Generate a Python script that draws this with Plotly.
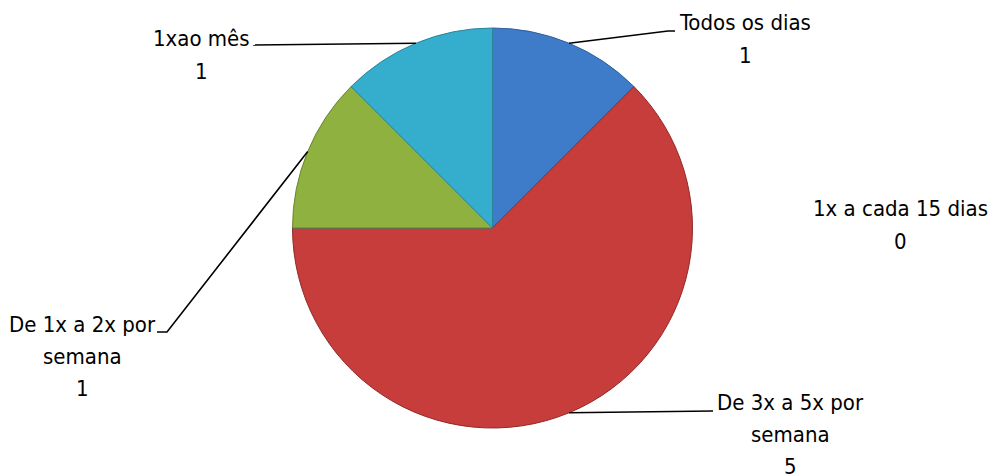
import math
import plotly.graph_objects as go

# Frequency categories and counts
categories = ["Todos os dias", "De 3x a 5x por semana", "1x a cada 15 dias",
              "De 1x a 2x por semana", "1xao mês"]
values = [1, 5, 0, 1, 1]
label_lines = [["Todos os dias"], ["De 3x a 5x por", "semana"], ["1x a cada 15 dias"],
               ["De 1x a 2x por", "semana"], ["1xao mês"]]

colors = ["#3e7cc9", "#c63d3b", "#8064a2", "#8fb13f", "#35aecd"]
edge_colors = ["#2f5f9c", "#8f2a29", "#5e4a7a", "#6a8530", "#27849c"]

W, H = 992, 475
CX, CY, R = 492.5, 228.0, 200.0
FONT = "Liberation Sans Narrow, DejaVu Sans Condensed, Arial Narrow, sans-serif"
LINE_STEP = 32

# label placement: centre x and centre y of the first text line (pixels)
label_pos = [(745, 23), (790, 402), (900, 209), (82, 324), (201, 39)]
# leader line elbows after the slice edge point (pixels)
leader_knee = [[(668, 31), (675, 31)],
               [(713, 411)],
               None,
               [(167, 332), (157, 332)],
               [(253, 45)]]


def px(x):
    return x / W


def py(y):
    return 1 - y / H


fig = go.Figure(go.Pie(
    labels=categories,
    values=values,
    sort=False,
    direction="clockwise",
    rotation=0,
    textinfo="none",
    hoverinfo="label+value",
    marker=dict(colors=colors, line=dict(color=edge_colors, width=1)),
    domain=dict(x=[(CX - R) / W, (CX + R) / W], y=[1 - (CY + R) / H, 1 - (CY - R) / H]),
    showlegend=False,
))

total = sum(values)
cum = 0
shapes = []
annotations = []
for i, v in enumerate(values):
    mid = (cum + v / 2) / total * 2 * math.pi
    cum += v
    lines = label_lines[i] + [str(v)]
    lx, ly = label_pos[i]
    for k, line in enumerate(lines):
        annotations.append(dict(
            x=px(lx), y=py(ly + k * LINE_STEP), xref="paper", yref="paper",
            xanchor="center", yanchor="middle", align="center",
            text=line, showarrow=False,
            font=dict(family=FONT, size=22, color="#000000"),
        ))
    if leader_knee[i] is None or v == 0:
        continue
    ex = CX + R * math.sin(mid)
    ey = CY - R * math.cos(mid)
    pts = [(ex, ey)] + leader_knee[i]
    path = "M " + " L ".join(f"{px(x):.5f},{py(y):.5f}" for x, y in pts)
    shapes.append(dict(type="path", path=path, xref="paper", yref="paper",
                       line=dict(color="#000000", width=1.6)))

fig.update_layout(
    width=W, height=H,
    margin=dict(l=0, r=0, t=0, b=0),
    paper_bgcolor="white",
    plot_bgcolor="white",
    shapes=shapes,
    annotations=annotations,
)

fig.write_html("out.html")
